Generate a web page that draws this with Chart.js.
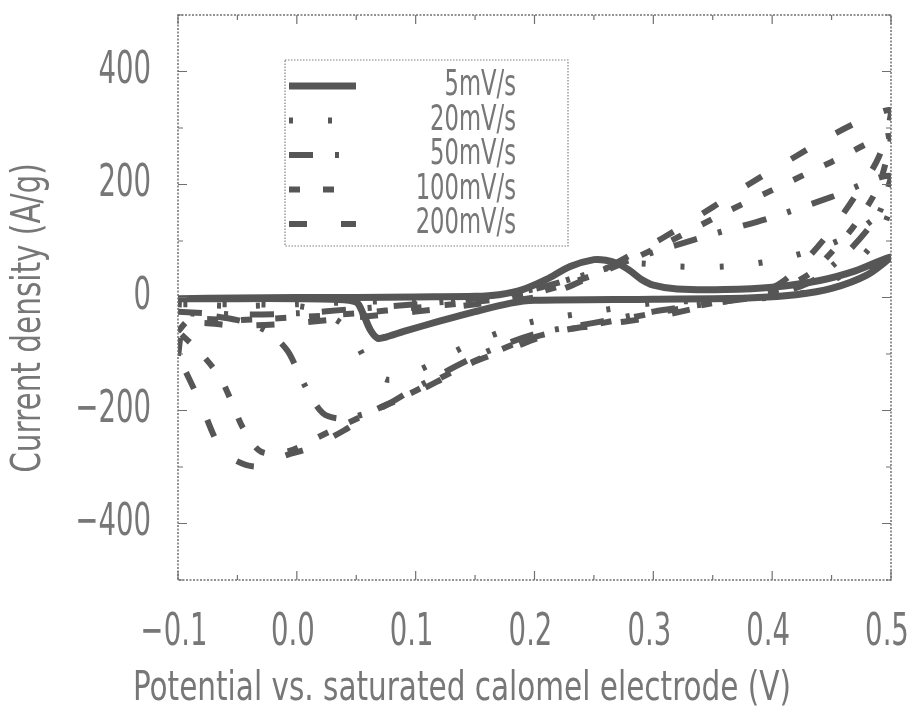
<!DOCTYPE html>
<html>
<head>
<meta charset="utf-8">
<title>Voltametria ciclica</title>
<script src="https://cdn.jsdelivr.net/npm/chart.js@4.4.0/dist/chart.umd.min.js"></script>
<style>
    html, body { margin: 0; padding: 0; background: #fff; }
    #area { width: 922px; height: 717px; }
</style>
</head>
<body>
<div id="area"><canvas id="graficoCV" width="922" height="717"></canvas></div>
<script>
// Dados (potencial em V, corrente em A/g)
const rotulos = ['5mV/s', '20mV/s', '50mV/s', '100mV/s', '200mV/s'];

// 5 mV/s - ida e volta
const potencial5 = [-0.1, -0.05, 0, 0.05, 0.1, 0.15, 0.17, 0.19, 0.21, 0.23, 0.25, 0.26, 0.27, 0.28, 0.29, 0.3, 0.32, 0.36, 0.4, 0.44, 0.47, 0.5,
    0.48, 0.45, 0.42, 0.38, 0.3, 0.2, 0.18, 0.15, 0.12, 0.09, 0.075, 0.068, 0.062, 0.056, 0.05, 0.03, 0, -0.05, -0.1];
const corrente5 = [-2, -1, 0, 0, 1, 2, 5, 14, 32, 55, 67, 66, 60, 48, 32, 22, 15, 14, 18, 30, 47, 72,
    40, 16, 5, -1, -3, -5, -10, -25, -42, -60, -70, -72, -58, -30, -8, -3, -2, -2, -2];

// 20 mV/s
const potencial20 = [-0.1, -0.05, 0, 0.05, 0.1, 0.15, 0.2, 0.25, 0.28, 0.32, 0.36, 0.4, 0.44, 0.47, 0.5,
    0.49, 0.47, 0.45, 0.43, 0.4, 0.3, 0.25, 0.2, 0.173, 0.143, 0.114, 0.09, 0.075, 0.06, 0.05, 0.04, 0.02, 0, -0.05, -0.1];
const corrente20 = [-12, -15, -12, -8, -5, 0, 15, 45, 60, 55, 55, 65, 88, 115, 160,
    110, 60, 28, 10, 0, -10, -25, -42, -60, -85, -117, -140, -145, -118, -80, -50, -25, -15, -12, -12];

// 50 mV/s
const potencial50 = [-0.1, -0.05, 0, 0.05, 0.1, 0.15, 0.2, 0.25, 0.3, 0.35, 0.4, 0.45, 0.5,
    0.49, 0.47, 0.45, 0.43, 0.4, 0.35, 0.3, 0.25, 0.2, 0.15, 0.1, 0.07, 0.04, 0.022, 0.005, -0.008, -0.025, -0.05, -0.1];
const corrente50 = [-25, -30, -28, -20, -12, -2, 15, 45, 80, 112, 142, 178, 215,
    150, 95, 55, 25, 5, -10, -25, -45, -65, -105, -160, -196, -214, -205, -149, -94, -60, -40, -25];

// 100 mV/s
const potencial100 = [-0.1, -0.09, -0.05, 0, 0.05, 0.1, 0.15, 0.2, 0.25, 0.3, 0.36, 0.4, 0.45, 0.5,
    0.49, 0.47, 0.45, 0.43, 0.4, 0.35, 0.3, 0.25, 0.2, 0.15, 0.1, 0.05, 0.02, -0.007, -0.03, -0.045, -0.055, -0.065, -0.082, -0.1];
const corrente100 = [-60, -40, -40, -35, -28, -18, -8, 8, 40, 85, 150, 190, 240, 285,
    200, 130, 80, 40, 10, -10, -28, -48, -70, -112, -165, -215, -245, -272, -273, -232, -184, -140, -96, -60];

// 200 mV/s
const potencial200 = [-0.1, -0.095, -0.08, -0.05, 0, 0.05, 0.1, 0.15, 0.2, 0.225, 0.25, 0.28, 0.31, 0.35, 0.38, 0.42, 0.45, 0.48, 0.5,
    0.49, 0.47, 0.45, 0.43, 0.41, 0.39, 0.35, 0.3, 0.25, 0.22, 0.18, 0.146, 0.118, 0.095, 0.065, 0.04, 0.01, -0.01, -0.033, -0.05, -0.065, -0.082, -0.1];
const corrente200 = [-103, -50, -45, -50, -45, -35, -25, -12, 0, 16, 40, 74, 108, 160, 200, 250, 287, 318, 330,
    250, 180, 120, 70, 30, 8, -12, -35, -50, -60, -90, -117, -149, -173, -200, -235, -267, -280, -299, -290, -264, -182, -103];

const ticksX = [-0.1, 0.0, 0.1, 0.2, 0.3, 0.4, 0.5];
const ticksY = [-400, -200, 0, 200, 400];

const tituloX = 'Potential vs. saturated calomel electrode (V)';
const tituloY = 'Current density (A/g)';

const corLinha = '#565656';
const corTexto = '#777';
const fonteBase = "'DejaVu Sans Condensed', 'DejaVu Sans', sans-serif";

function pontos(pot, cor) {
    return pot.map((v, i) => ({ x: v, y: cor[i] }));
}

function comMenos(texto, valor) {
    return valor < 0 ? '\u2212' + texto.replace('-', '') : texto;
}

// Texto estreito (fonte condensada como na figura)
function textoEstreito(ctx, texto, x, y, alinhamento, escala) {
    ctx.save();
    ctx.translate(x, y);
    ctx.scale(escala, 1);
    ctx.textAlign = alinhamento;
    ctx.fillText(texto, 0, 0);
    ctx.restore();
}

// Moldura pontilhada e marcas internas nos quatro lados
const molduraPlugin = {
    id: 'moldura',
    afterDatasetsDraw(chart) {
        const ctx = chart.ctx;
        const a = chart.chartArea;
        const sx = chart.scales.x;
        const sy = chart.scales.y;
        ctx.save();
        ctx.strokeStyle = '#707070';
        ctx.lineWidth = 1.5;
        ctx.setLineDash([2, 1.5]);
        ctx.strokeRect(a.left, a.top, a.right - a.left, a.bottom - a.top);
        ctx.setLineDash([]);
        ctx.lineWidth = 1.2;
        sx.ticks.forEach(t => {
            const px = sx.getPixelForValue(t.value);
            const major = Math.round(t.value * 100) % 10 === 0;
            const len = major ? 9 : 5;
            ctx.beginPath();
            ctx.moveTo(px, a.bottom); ctx.lineTo(px, a.bottom - len);
            ctx.moveTo(px, a.top); ctx.lineTo(px, a.top + len);
            ctx.stroke();
        });
        sy.ticks.forEach(t => {
            const py = sy.getPixelForValue(t.value);
            const major = Math.round(t.value) % 200 === 0;
            const len = major ? 9 : 5;
            ctx.beginPath();
            ctx.moveTo(a.left, py); ctx.lineTo(a.left + len, py);
            ctx.moveTo(a.right, py); ctx.lineTo(a.right - len, py);
            ctx.stroke();
        });
        ctx.restore();
    }
};

// Rotulos dos eixos e titulos
const eixosPlugin = {
    id: 'eixosTexto',
    afterDraw(chart) {
        const ctx = chart.ctx;
        const sx = chart.scales.x;
        const sy = chart.scales.y;
        ctx.save();
        ctx.fillStyle = corTexto;
        ctx.textBaseline = 'middle';
        ctx.font = '45px ' + fonteBase;
        ticksY.forEach(v => {
            textoEstreito(ctx, comMenos(String(v), v), 151, sy.getPixelForValue(v), 'right', 0.68);
        });
        ticksX.forEach(v => {
            textoEstreito(ctx, comMenos(v.toFixed(1), v), sx.getPixelForValue(v) - 4, 633, 'center', 0.68);
        });
        ctx.font = '40px ' + fonteBase;
        textoEstreito(ctx, tituloX, 462, 690, 'center', 0.82);
        ctx.translate(30, 318);
        ctx.rotate(-Math.PI / 2);
        textoEstreito(ctx, tituloY, 0, 0, 'center', 0.82);
        ctx.restore();
    }
};

// Legenda dentro do grafico, com caixa pontilhada
const legendaPlugin = {
    id: 'legendaCaixa',
    afterDraw(chart) {
        const ctx = chart.ctx;
        const caixa = { x: 285, y: 60, w: 283, h: 186 };
        ctx.save();
        ctx.fillStyle = '#fff';
        ctx.fillRect(caixa.x, caixa.y, caixa.w, caixa.h);
        ctx.strokeStyle = '#808080';
        ctx.lineWidth = 1.2;
        ctx.setLineDash([1.5, 1.5]);
        ctx.strokeRect(caixa.x, caixa.y, caixa.w, caixa.h);
        chart.data.datasets.forEach((ds, i) => {
            const y = 86 + i * 34.5;
            ctx.strokeStyle = ds.borderColor;
            ctx.lineWidth = ds.borderWidth;
            ctx.setLineDash(ds.borderDash || []);
            ctx.beginPath();
            ctx.moveTo(289, y);
            ctx.lineTo(356, y);
            ctx.stroke();
            ctx.setLineDash([]);
            ctx.fillStyle = corTexto;
            ctx.font = '35px ' + fonteBase;
            ctx.textBaseline = 'middle';
            textoEstreito(ctx, ds.label, 516, y, 'right', 0.72);
        });
        ctx.restore();
    }
};

function criarGrafico() {
    const ctx = document.getElementById('graficoCV').getContext('2d');
    const series = [
        { pot: potencial5, cor: corrente5, dash: [], largura: 7, ordem: 0 },
        { pot: potencial20, cor: corrente20, dash: [4, 35], largura: 6, ordem: 1 },
        { pot: potencial50, cor: corrente50, dash: [24, 22, 4, 22], largura: 6, ordem: 1 },
        { pot: potencial100, cor: corrente100, dash: [11, 23], largura: 6, ordem: 1 },
        { pot: potencial200, cor: corrente200, dash: [18, 34], largura: 6, ordem: 1 }
    ];

    new Chart(ctx, {
        type: 'scatter',
        data: {
            datasets: series.map((s, i) => ({
                label: rotulos[i],
                data: pontos(s.pot, s.cor),
                showLine: true,
                borderColor: corLinha,
                borderWidth: s.largura,
                borderDash: s.dash,
                pointRadius: 0,
                tension: 0.3,
                fill: false,
                order: s.ordem
            }))
        },
        options: {
            responsive: false,
            animation: false,
            devicePixelRatio: 1,
            layout: { padding: { top: 15, right: 31, left: 0, bottom: 0 } },
            plugins: {
                legend: { display: false },
                tooltip: { enabled: false }
            },
            scales: {
                x: {
                    type: 'linear',
                    min: -0.1,
                    max: 0.5,
                    grid: { display: false, drawTicks: false },
                    border: { display: false },
                    ticks: { display: false, stepSize: 0.05, maxTicksLimit: 20 },
                    afterFit: (scale) => {
                        scale.height = 137;
                        scale.paddingLeft = 0;
                        scale.paddingRight = 0;
                    }
                },
                y: {
                    min: -500,
                    max: 500,
                    grid: { display: false, drawTicks: false },
                    border: { display: false },
                    ticks: { display: false, stepSize: 100, maxTicksLimit: 20 },
                    afterFit: (scale) => {
                        scale.width = 178;
                        scale.paddingTop = 0;
                        scale.paddingBottom = 0;
                    }
                }
            }
        },
        plugins: [molduraPlugin, eixosPlugin, legendaPlugin]
    });
}

document.addEventListener('DOMContentLoaded', () => {
    criarGrafico();
});
</script>
</body>
</html>
